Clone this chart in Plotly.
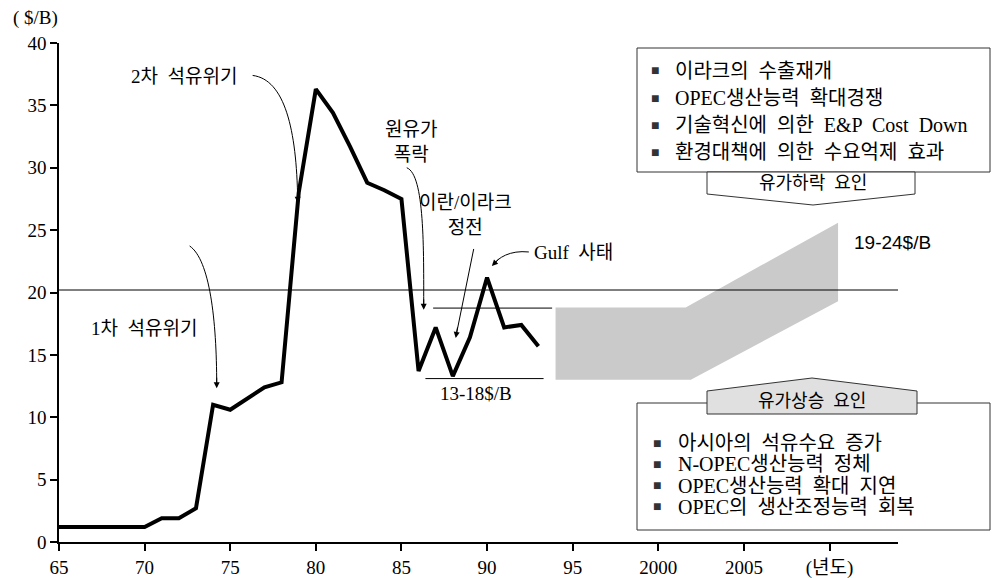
import plotly.graph_objects as go

# ---- data ----
years = list(range(65, 94))
prices = [1.2, 1.2, 1.2, 1.2, 1.2, 1.2, 1.9, 1.9, 2.7, 11.0,
          10.6, 11.5, 12.4, 12.8, 28.0, 36.3, 34.4, 31.7, 28.8, 28.2,
          27.5, 13.7, 17.2, 13.3, 16.4, 21.2, 17.2, 17.4, 15.7]

band_upper_x = [94.0, 101.6, 110.5]
band_upper_y = [18.8, 18.8, 25.6]
band_lower_x = [94.0, 101.9, 110.5]
band_lower_y = [13.0, 13.0, 19.3]

ref_level = 20.2
range_hi = 18.75
range_lo = 13.1

tick_vals = [65, 70, 75, 80, 85, 90, 95, 100, 105, 110]
tick_text = ["65", "70", "75", "80", "85", "90", "95", "2000", "2005", "(년도)"]
y_ticks = [0, 5, 10, 15, 20, 25, 30, 35, 40]

down_factors = ["이라크의 수출재개", "OPEC생산능력 확대경쟁",
                "기술혁신에 의한 E&P Cost Down", "환경대책에 의한 수요억제 효과"]
up_factors = ["아시아의 석유수요 증가", "N-OPEC생산능력 정체",
              "OPEC생산능력 확대 지연", "OPEC의 생산조정능력 회복"]

FONT = "Liberation Serif, Noto Sans CJK KR, serif"

# ---- layout geometry ----
W, H = 992, 578
ML, MR, MT, MB = 59, 94, 43, 36
PW = W - ML - MR
PH = H - MT - MB


def px(x):
    return (x - ML) / PW


def py(y):
    return (H - MB - y) / PH


fig = go.Figure()

fig.add_trace(go.Scatter(
    x=band_upper_x + band_lower_x[::-1],
    y=band_upper_y + band_lower_y[::-1],
    mode="lines", fill="toself", fillcolor="#cacaca",
    line=dict(width=0), hoverinfo="skip", showlegend=False))

fig.add_trace(go.Scatter(
    x=years, y=prices, mode="lines",
    line=dict(color="black", width=4), showlegend=False))

shapes = []
shapes.append(dict(type="line", xref="x", yref="y", x0=65, x1=114,
                   y0=ref_level, y1=ref_level, line=dict(color="black", width=1)))
shapes.append(dict(type="line", xref="x", yref="y", x0=86.85, x1=93.8,
                   y0=range_hi, y1=range_hi, line=dict(color="black", width=1)))
shapes.append(dict(type="line", xref="x", yref="y", x0=86.4, x1=93.3,
                   y0=range_lo, y1=range_lo, line=dict(color="black", width=1)))

curves = [
    [(76.31, 37.4), (78.18, 37.08), (78.88, 33.07), (78.94, 27.4)],
    [(72.63, 23.73), (73.80, 22.63), (74.21, 17.81), (74.21, 12.6)],
    [(85.31, 30.0), (86.36, 29.45), (86.30, 23.43), (86.30, 18.8)],
    [(92.44, 23.25), (91.33, 23.41), (90.63, 22.77), (90.35, 22.2)],
]
for c in curves:
    p = "M{},{} C{},{} {},{} {},{}".format(*[v for pt in c for v in pt])
    shapes.append(dict(type="path", xref="x", yref="y", path=p,
                       line=dict(color="black", width=1)))
shapes.append(dict(type="line", xref="x", yref="y", x0=89.22, y0=23.49,
                   x1=88.2, y1=16.6, line=dict(color="black", width=1)))

shapes.append(dict(type="rect", xref="paper", yref="paper",
                   x0=px(637), x1=px(990), y0=py(172), y1=py(48),
                   line=dict(color="#333", width=1), fillcolor="white", layer="above"))
shapes.append(dict(type="path", xref="paper", yref="paper",
                   path="M{},{} L{},{} L{},{} L{},{} L{},{} Z".format(
                       px(707), py(172), px(707), py(194), px(813), py(205),
                       px(915), py(194), px(915), py(172)),
                   line=dict(color="#333", width=1), fillcolor="white", layer="above"))
shapes.append(dict(type="rect", xref="paper", yref="paper",
                   x0=px(637), x1=px(990), y0=py(530), y1=py(403),
                   line=dict(color="#333", width=1), fillcolor="white", layer="above"))
shapes.append(dict(type="path", xref="paper", yref="paper",
                   path="M{},{} L{},{} L{},{} L{},{} L{},{} Z".format(
                       px(707), py(414), px(707), py(391), px(812), py(378),
                       px(917), py(391), px(917), py(414)),
                   line=dict(color="#333", width=1), fillcolor="#e0e0e0", layer="above"))

ann = []


def text_data(x, y, t, size=19, xanchor="center", family=FONT):
    ann.append(dict(x=x, y=y, xref="x", yref="y", text=t, showarrow=False,
                    xanchor=xanchor, yanchor="middle",
                    font=dict(family=family, size=size, color="black")))


def text_px(x, y, t, size=19, xanchor="center", color="black"):
    ann.append(dict(x=px(x), y=py(y), xref="paper", yref="paper", text=t,
                    showarrow=False, xanchor=xanchor, yanchor="middle",
                    font=dict(family=FONT, size=size, color=color)))


def arrowhead(x, y, ax, ay):
    ann.append(dict(x=x, y=y, xref="x", yref="y", ax=ax, ay=ay, text="",
                    showarrow=True, arrowhead=2, arrowsize=1.2, arrowwidth=1,
                    arrowcolor="black"))


text_px(35, 18, "( $/B)", size=19)
text_data(72.28, 37.33, "2차  석유위기")
text_data(69.96, 17.15, "1차  석유위기")
text_data(85.55, 32.1, "원유가<br>폭락")
text_data(88.76, 26.2, "이란/이라크<br>정전")
text_data(92.6, 23.17, "Gulf  사태", xanchor="left")
text_data(89.34, 11.9, "13-18$/B")
text_data(111.3, 23.97, "19-24$/B", size=19, xanchor="left",
          family="Liberation Sans, Arial, sans-serif")

arrowhead(78.94, 27.2, 0, -12)
arrowhead(74.21, 12.33, 0, -12)
arrowhead(86.30, 18.61, 0, -12)
arrowhead(88.17, 16.36, 2, -12)
arrowhead(90.28, 22.13, 8, -8)

for i, t in enumerate(down_factors):
    yy = 71 + 27 * i
    text_px(655, yy, "■", size=14, color="#333")
    text_px(673, yy, t.replace(" ", "  "), size=20, xanchor="left")
text_px(813, 183, "유가하락  요인", size=18)

text_px(812, 401, "유가상승  요인", size=18)
for i, t in enumerate(up_factors):
    yy = 443 + 21.3 * i
    text_px(657, yy, "■", size=14, color="#333")
    text_px(676, yy, t.replace(" ", "  "), size=20, xanchor="left")

fig.update_layout(
    width=W, height=H,
    margin=dict(l=ML, r=MR, t=MT, b=MB, pad=0, autoexpand=False),
    paper_bgcolor="white", plot_bgcolor="white",
    showlegend=False,
    shapes=shapes, annotations=ann,
    font=dict(family=FONT, size=19, color="black"),
    xaxis=dict(range=[65, 114], tickvals=tick_vals, ticktext=tick_text,
               showgrid=False, zeroline=False, showline=True, automargin=False,
               linecolor="black", linewidth=1.5, ticks="outside",
               ticklen=7, tickcolor="black", tickwidth=1.5,
               tickfont=dict(family=FONT, size=19)),
    yaxis=dict(range=[0, 40], tickvals=y_ticks,
               showgrid=False, zeroline=False, showline=True, automargin=False,
               linecolor="black", linewidth=1.5, ticks="outside",
               ticklen=7, tickcolor="black", tickwidth=1.5,
               tickfont=dict(family=FONT, size=19)),
)

fig.write_html("out.html")
